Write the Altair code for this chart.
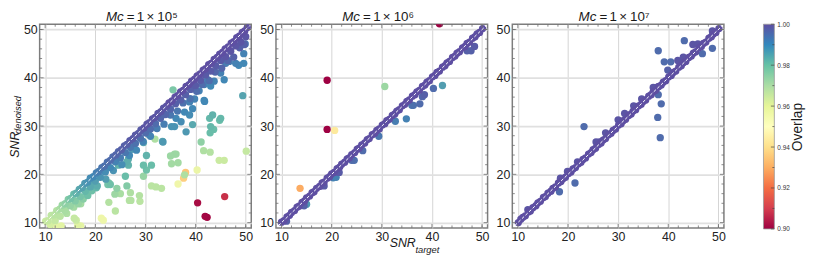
import altair as alt
import pandas as pd

FONT = "Liberation Sans"
W, H = 214, 206
AX_DOMAIN = [8.9, 51.1]
OV_DOMAIN = [0.90, 1.00]

PANEL_EXP = ["10⁵", "10⁶", "10⁷"]
TICK_LABELS = [10, 20, 30, 40, 50]
MINOR_TICKS = [12, 14, 16, 18, 22, 24, 26, 28, 32, 34, 36, 38, 42, 44, 46, 48, 50]
DIAG_LINE = [9.4, 50.8]
OV_TICKS = [0.90, 0.92, 0.94, 0.96, 0.98, 1.00]
OV_MINOR = [0.91, 0.93, 0.95, 0.97, 0.99]
SPECTRAL = ["#9e0142", "#d53e4f", "#f46d43", "#fdae61", "#fee08b", "#ffffbf",
            "#e6f598", "#abdda4", "#66c2a5", "#3288bd", "#5e4fa2"]

# ---------------- Panel 1 : Mc = 1e5  (SNR_target, SNR_denoised, overlap)
P1_DIAG = [
    (10.1, 10.3, 0.964), (10.6, 10.4, 0.965), (11.2, 11.5, 0.966), (11.8, 11.6, 0.967),
    (12.3, 12.5, 0.968), (12.9, 12.8, 0.970), (13.4, 13.6, 0.972), (14.0, 13.9, 0.974),
    (14.6, 14.8, 0.976), (15.1, 15.0, 0.978), (15.7, 15.9, 0.980), (16.2, 16.1, 0.982),
    (16.8, 16.9, 0.984), (17.4, 17.3, 0.985), (17.9, 18.1, 0.987), (18.5, 18.4, 0.988),
    (19.0, 19.2, 0.989), (19.6, 19.5, 0.990), (20.2, 20.3, 0.991), (20.7, 20.6, 0.992),
    (21.3, 21.4, 0.993), (21.8, 21.7, 0.994), (22.4, 22.5, 0.994), (23.0, 22.9, 0.995),
    (23.5, 23.6, 0.995), (24.1, 24.0, 0.996), (24.6, 24.7, 0.996), (25.2, 25.1, 0.997),
    (25.8, 25.9, 0.997), (26.3, 26.2, 0.997), (26.9, 27.0, 0.998), (27.5, 27.4, 0.998),
    (28.0, 28.1, 0.998), (28.6, 28.5, 0.998), (29.1, 29.2, 0.998), (29.7, 29.6, 0.999),
    (30.3, 30.4, 0.999), (30.8, 30.7, 0.999), (31.4, 31.5, 0.999), (31.9, 31.8, 0.999),
    (32.5, 32.6, 0.999), (33.1, 33.0, 0.999), (33.6, 33.7, 0.999), (34.2, 34.1, 0.999),
    (34.7, 34.8, 1.000), (35.3, 35.2, 1.000), (35.9, 36.0, 1.000), (36.4, 36.3, 1.000),
    (37.0, 37.1, 1.000), (37.5, 37.4, 1.000), (38.1, 38.2, 1.000), (38.7, 38.6, 1.000),
    (39.2, 39.3, 1.000), (39.8, 39.7, 1.000), (40.3, 40.4, 1.000), (40.9, 40.8, 1.000),
    (41.5, 41.6, 1.000), (42.0, 41.9, 1.000), (42.6, 42.7, 1.000), (43.1, 43.0, 1.000),
    (43.7, 43.8, 1.000), (44.3, 44.2, 1.000), (44.8, 44.9, 1.000), (45.4, 45.3, 1.000),
    (45.9, 46.0, 1.000), (46.5, 46.4, 1.000), (47.1, 47.2, 1.000), (47.6, 47.5, 1.000),
    (48.2, 48.3, 1.000), (48.7, 48.6, 1.000), (49.3, 49.4, 1.000), (49.8, 49.7, 1.000),
    (50.3, 50.4, 1.000),
]
P1_BELOW = [
    (11.0, 9.6, 0.962), (12.0, 10.4, 0.965), (13.0, 11.3, 0.967), (14.0, 12.4, 0.970),
    (15.0, 13.5, 0.973), (16.0, 14.5, 0.976), (17.0, 15.4, 0.978), (18.0, 16.5, 0.981),
    (19.0, 17.4, 0.984), (20.0, 18.6, 0.986), (21.0, 19.4, 0.988), (22.0, 20.5, 0.989),
    (23.0, 21.4, 0.990), (24.0, 22.6, 0.991), (25.0, 23.4, 0.992), (26.0, 24.5, 0.993),
    (27.0, 25.6, 0.993), (28.0, 26.4, 0.994), (29.0, 27.5, 0.994), (30.0, 28.6, 0.995),
    (31.0, 29.4, 0.995), (32.0, 30.5, 0.995), (33.0, 31.6, 0.996), (34.0, 32.4, 0.996),
    (35.0, 33.5, 0.996), (36.0, 34.6, 0.997), (37.0, 35.4, 0.997), (38.0, 36.5, 0.997),
    (39.0, 37.6, 0.997), (40.0, 38.4, 0.998), (41.0, 39.5, 0.998), (42.0, 40.6, 0.998),
    (43.0, 41.4, 0.998), (44.0, 42.5, 0.998), (45.0, 43.6, 0.998), (46.0, 44.4, 0.999),
    (47.0, 45.5, 0.999), (48.0, 46.6, 0.999), (49.0, 47.4, 0.999), (50.0, 48.5, 0.999),
    (18.5, 15.6, 0.979), (20.4, 17.6, 0.983), (22.1, 19.0, 0.986), (23.6, 20.8, 0.988),
    (25.3, 22.0, 0.989), (26.8, 23.9, 0.990), (28.2, 25.0, 0.990), (29.5, 26.8, 0.991),
    (31.0, 27.9, 0.991), (32.3, 29.5, 0.992), (33.7, 30.4, 0.992), (35.0, 32.3, 0.993),
    (36.4, 33.1, 0.993), (37.5, 34.8, 0.994), (38.9, 35.7, 0.994), (40.2, 37.2, 0.995),
    (41.3, 38.6, 0.995), (42.7, 39.4, 0.995), (43.9, 41.2, 0.996), (45.2, 42.0, 0.996),
    (46.4, 43.6, 0.996), (47.6, 44.3, 0.997), (48.8, 46.2, 0.997), (49.7, 46.9, 0.997),
]
P1_SCATTER = [
    (49.9, 47.0, 0.993), (49.6, 45.0, 0.991), (48.0, 43.0, 0.991), (48.6, 42.6, 0.990),
    (49.6, 43.0, 0.990), (46.0, 43.0, 0.992), (46.7, 43.4, 0.992), (45.0, 41.0, 0.991),
    (45.7, 39.6, 0.990), (43.7, 39.3, 0.991), (42.4, 39.6, 0.991), (43.0, 38.3, 0.990),
    (41.7, 38.6, 0.991), (40.7, 37.3, 0.991), (41.7, 35.3, 0.990), (39.8, 35.6, 0.991),
    (38.8, 35.0, 0.991), (39.4, 33.6, 0.990), (37.8, 32.9, 0.990), (38.8, 32.3, 0.989),
    (36.1, 31.6, 0.990), (37.1, 30.9, 0.989), (41.8, 35.1, 0.990),
    (49.4, 36.3, 0.985), (35.5, 37.5, 0.977), (43.4, 32.3, 0.982), (45.0, 31.6, 0.981),
    (43.0, 29.9, 0.981), (39.4, 30.3, 0.984), (42.8, 31.6, 0.981), (44.8, 31.2, 0.980),
    (42.9, 28.6, 0.980), (43.6, 29.3, 0.980), (38.1, 28.8, 0.987), (35.2, 29.9, 0.988),
    (35.8, 29.9, 0.988), (33.5, 26.7, 0.987), (30.6, 28.3, 0.988), (29.6, 26.6, 0.985),
    (30.2, 23.9, 0.982), (31.2, 21.9, 0.980), (29.6, 21.9, 0.980), (30.2, 20.9, 0.979),
    (26.6, 21.9, 0.982), (26.3, 22.6, 0.983), (26.6, 23.2, 0.983), (24.6, 21.9, 0.982),
    (25.3, 24.9, 0.986), (27.3, 25.2, 0.987), (24.3, 23.2, 0.985), (26.0, 19.6, 0.980),
    (33.4, 26.8, 0.984),
    (41.1, 26.7, 0.974), (41.6, 24.9, 0.969), (42.9, 24.6, 0.968), (31.9, 27.3, 0.969),
    (35.0, 23.8, 0.972), (36.1, 24.2, 0.972), (36.5, 22.4, 0.971), (35.8, 24.2, 0.972),
    (35.2, 22.2, 0.971), (29.6, 19.6, 0.973), (50.1, 24.8, 0.965), (44.7, 22.9, 0.964),
    (45.7, 22.9, 0.964), (37.8, 19.9, 0.969), (33.2, 17.1, 0.967), (31.2, 17.6, 0.967),
    (32.1, 17.4, 0.967),
    (40.3, 20.9, 0.956), (36.5, 18.0, 0.954),
    (38.0, 20.4, 0.935), (37.6, 19.2, 0.937),
    (40.4, 14.1, 0.902), (41.9, 11.3, 0.901), (42.3, 11.1, 0.901), (45.8, 15.4, 0.908),
    (22.5, 17.9, 0.978), (23.9, 15.9, 0.972), (22.7, 14.2, 0.968), (24.0, 12.4, 0.967),
    (21.2, 10.9, 0.955), (21.6, 10.5, 0.955), (16.2, 10.5, 0.964), (15.8, 10.9, 0.965),
    (25.0, 16.0, 0.970), (26.8, 14.6, 0.968), (27.0, 16.2, 0.969), (28.9, 14.4, 0.967),
    (28.8, 15.6, 0.968), (26.3, 17.6, 0.976), (24.3, 17.1, 0.974), (22.7, 18.2, 0.978),
    (23.0, 17.9, 0.979), (27.1, 14.6, 0.968),
    (14.3, 11.9, 0.969), (15.7, 13.2, 0.971), (16.6, 13.9, 0.973), (17.6, 14.9, 0.975),
    (18.3, 15.9, 0.977), (19.3, 16.6, 0.979), (20.2, 17.2, 0.981), (19.3, 18.2, 0.983),
    (17.1, 9.3, 0.958), (12.2, 9.2, 0.958), (13.2, 9.3, 0.959), (16.5, 9.4, 0.960),
    (17.1, 13.9, 0.971), (14.1, 13.2, 0.970),
]

# ---------------- Panel 2 : Mc = 1e6
P2_DIAG = [
    (10.0, 10.1, 1.0), (10.5, 10.4, 1.0), (11.1, 11.2, 1.0), (11.6, 11.5, 1.0), (12.0, 12.1, 1.0),
    (12.6, 12.5, 1.0), (13.1, 13.2, 1.0), (13.5, 13.4, 1.0), (14.1, 14.2, 1.0), (14.6, 14.5, 1.0),
    (15.0, 15.1, 1.0), (15.6, 15.5, 1.0), (16.1, 16.2, 1.0), (16.5, 16.4, 1.0), (17.0, 17.1, 1.0),
    (17.6, 17.5, 1.0), (18.1, 18.2, 1.0), (18.5, 18.4, 1.0), (19.1, 19.2, 1.0), (19.6, 19.5, 1.0),
    (20.0, 20.1, 1.0), (20.5, 20.4, 1.0), (21.1, 21.2, 1.0), (21.6, 21.5, 1.0), (22.0, 22.1, 1.0),
    (22.6, 22.5, 1.0), (23.1, 23.2, 1.0), (23.5, 23.4, 1.0), (24.0, 24.1, 1.0), (24.6, 24.5, 1.0),
    (25.1, 25.2, 1.0), (25.5, 25.4, 1.0), (26.0, 26.1, 1.0), (26.6, 26.5, 1.0), (27.1, 27.2, 1.0),
    (27.5, 27.4, 1.0), (28.1, 28.2, 1.0), (28.6, 28.5, 1.0), (29.0, 29.1, 1.0), (29.5, 29.4, 1.0),
    (30.1, 30.2, 1.0), (30.6, 30.5, 1.0), (31.0, 31.1, 1.0), (31.5, 31.4, 1.0), (32.1, 32.2, 1.0),
    (32.6, 32.5, 1.0), (33.0, 33.1, 1.0), (33.5, 33.4, 1.0), (34.1, 34.2, 1.0), (34.6, 34.5, 1.0),
    (35.0, 35.1, 1.0), (35.5, 35.4, 1.0), (36.1, 36.2, 1.0), (36.6, 36.5, 1.0), (37.0, 37.1, 1.0),
    (37.5, 37.4, 1.0), (38.1, 38.2, 1.0), (38.6, 38.5, 1.0), (39.0, 39.1, 1.0), (39.5, 39.4, 1.0),
    (40.1, 40.2, 1.0), (40.6, 40.5, 1.0), (41.0, 41.1, 1.0), (41.5, 41.4, 1.0), (42.1, 42.2, 1.0),
    (42.6, 42.5, 1.0), (43.0, 43.1, 1.0), (43.5, 43.4, 1.0), (44.1, 44.2, 1.0), (44.6, 44.5, 1.0),
    (45.0, 45.1, 1.0), (45.5, 45.4, 1.0), (46.1, 46.2, 1.0), (46.6, 46.5, 1.0), (47.0, 47.1, 1.0),
    (47.5, 47.4, 1.0), (48.1, 48.2, 1.0), (48.6, 48.5, 1.0), (49.0, 49.1, 1.0), (49.5, 49.4, 1.0),
    (50.1, 50.2, 1.0),
]
P2_OFF = [
    (11.0, 10.3, 0.997), (15.0, 13.8, 0.987), (20.3, 19.3, 0.991), (20.9, 19.4, 0.991),
    (24.0, 22.9, 0.995), (24.5, 22.9, 0.994), (26.2, 24.9, 0.995), (29.4, 27.9, 0.993),
    (32.7, 31.0, 0.992), (34.9, 31.5, 0.991), (36.0, 34.3, 0.993), (36.3, 34.3, 0.994),
    (37.6, 34.6, 0.995), (38.1, 36.1, 0.996), (38.5, 36.5, 0.997), (40.3, 37.8, 0.995),
    (42.1, 38.4, 0.986), (47.0, 45.6, 0.997), (47.8, 45.6, 0.997), (48.5, 46.5, 0.998),
    (14.5, 13.5, 0.997), (18.5, 17.6, 0.998), (21.5, 20.4, 0.998),
    (41.5, 51.2, 0.900), (19.1, 39.5, 0.900), (19.1, 29.3, 0.900), (20.6, 29.1, 0.945),
    (30.6, 38.2, 0.972), (13.7, 17.1, 0.930),
]

# ---------------- Panel 3 : Mc = 1e7
P3_DIAG = [
    (10.1, 10.0, 1.0), (10.6, 10.7, 1.0), (11.0, 11.1, 1.0), (11.5, 11.4, 1.0), (12.1, 12.2, 1.0),
    (12.5, 12.4, 1.0), (13.0, 13.1, 1.0), (13.6, 13.5, 1.0), (14.0, 14.1, 1.0), (14.5, 14.4, 1.0),
    (15.1, 15.2, 1.0), (15.5, 15.4, 1.0), (16.0, 16.1, 1.0), (16.6, 16.5, 1.0), (17.0, 17.1, 1.0),
    (17.5, 17.4, 1.0), (18.1, 18.2, 1.0), (18.6, 18.5, 1.0), (19.0, 19.1, 1.0), (19.5, 19.4, 1.0),
    (20.1, 20.2, 1.0), (20.6, 20.5, 1.0), (21.0, 21.1, 1.0), (21.5, 21.4, 1.0), (22.1, 22.2, 1.0),
    (22.6, 22.5, 1.0), (23.0, 23.1, 1.0), (23.5, 23.4, 1.0), (24.1, 24.2, 1.0), (24.6, 24.5, 1.0),
    (25.0, 25.1, 1.0), (25.5, 25.4, 1.0), (26.1, 26.2, 1.0), (26.6, 26.5, 1.0), (27.0, 27.1, 1.0),
    (27.5, 27.4, 1.0), (28.1, 28.2, 1.0), (28.6, 28.5, 1.0), (29.0, 29.1, 1.0), (29.5, 29.4, 1.0),
    (30.1, 30.2, 1.0), (30.6, 30.5, 1.0), (31.0, 31.1, 1.0), (31.5, 31.4, 1.0), (32.1, 32.2, 1.0),
    (32.6, 32.5, 1.0), (33.0, 33.1, 1.0), (33.5, 33.4, 1.0), (34.1, 34.2, 1.0), (34.6, 34.5, 1.0),
    (35.0, 35.1, 1.0), (35.5, 35.4, 1.0), (36.1, 36.2, 1.0), (36.6, 36.5, 1.0), (37.0, 37.1, 1.0),
    (37.5, 37.4, 1.0), (38.1, 38.2, 1.0), (38.6, 38.5, 1.0), (39.0, 39.1, 1.0), (39.5, 39.4, 1.0),
    (40.1, 40.2, 1.0), (40.6, 40.5, 1.0), (41.0, 41.1, 1.0), (41.5, 41.4, 1.0), (42.1, 42.2, 1.0),
    (42.6, 42.5, 1.0), (43.0, 43.1, 1.0), (43.5, 43.4, 1.0), (44.1, 44.2, 1.0), (44.6, 44.5, 1.0),
    (45.0, 45.1, 1.0), (45.5, 45.4, 1.0), (46.1, 46.2, 1.0), (46.6, 46.5, 1.0), (47.0, 47.1, 1.0),
    (47.5, 47.4, 1.0), (48.1, 48.2, 1.0), (48.6, 48.5, 1.0), (49.0, 49.1, 1.0), (49.5, 49.4, 1.0),
    (50.1, 50.2, 1.0),
]
P3_OFF = [
    (12.0, 12.7, 0.999), (18.5, 19.2, 0.999), (19.9, 20.6, 0.999), (21.9, 22.6, 0.999),
    (25.6, 26.7, 0.999), (26.3, 26.7, 0.999), (27.5, 28.6, 0.999), (30.0, 31.3, 0.999),
    (31.3, 32.6, 0.999), (33.1, 34.2, 0.999), (34.7, 35.6, 0.999), (37.0, 38.0, 0.999),
    (37.9, 38.1, 0.999), (39.9, 41.6, 0.997), (41.9, 43.6, 0.999), (43.0, 44.3, 0.999),
    (44.9, 46.9, 0.999), (45.9, 47.0, 0.999), (48.9, 49.3, 0.999), (48.8, 49.7, 0.999),
    (38.0, 45.6, 0.995), (43.2, 47.7, 0.995), (39.2, 43.3, 0.995), (40.5, 43.3, 0.995),
    (48.8, 46.1, 0.995), (46.8, 45.0, 0.995), (38.0, 36.5, 0.995), (38.6, 34.6, 0.995),
    (37.9, 31.8, 0.995), (38.4, 27.6, 0.995), (23.2, 29.9, 0.995), (21.4, 18.2, 0.995),
    (18.3, 16.4, 0.995),
]

PANELS = [P1_DIAG + P1_BELOW + P1_SCATTER, P2_DIAG + P2_OFF, P3_DIAG + P3_OFF]

ONE = pd.DataFrame({"k": [0]})
TICK_COLOR = "#6e6e6e"


def xy_scale():
    return alt.Scale(domain=AX_DOMAIN, nice=False, zero=False)


def x_axis():
    return alt.Axis(values=TICK_LABELS, grid=True, ticks=False, domain=False, title=None,
                    labelFontSize=12.5, labelPadding=3, labelColor="#222",
                    gridColor="#d4d4d4", gridWidth=1, labelFont=FONT)


def y_axis():
    return alt.Axis(values=TICK_LABELS, grid=True, ticks=False, domain=False, title=None,
                    labelFontSize=12.5, labelPadding=2.5, labelColor="#222",
                    gridColor="#e0e0e0", gridWidth=1.8, labelFont=FONT)


def txt(text, x, y, size, italic=False, align="left", angle=0):
    kw = dict(text=text, font=FONT, fontSize=size, align=align, baseline="alphabetic",
              color="#1a1a1a")
    if italic:
        kw["fontStyle"] = "italic"
    if angle:
        kw["angle"] = angle
    return alt.Chart(ONE).mark_text(**kw).encode(x=alt.value(x), y=alt.value(y))


def make_panel(points, exp_text, ytitle, xtitle):
    df = pd.DataFrame(points, columns=["snr_t", "snr_d", "ov"]).sort_values("ov")
    X = lambda f: alt.X(f, scale=xy_scale(), axis=x_axis())
    Y = lambda f: alt.Y(f, scale=xy_scale(), axis=y_axis())

    pts = alt.Chart(df).mark_circle(size=55, opacity=1, clip=True).encode(
        x=X("snr_t:Q"), y=Y("snr_d:Q"),
        color=alt.Color("ov:Q", scale=alt.Scale(scheme="spectral", domain=OV_DOMAIN, clamp=True),
                        legend=None),
        order=alt.Order("ov:Q"),
    )
    line_df = pd.DataFrame({"snr_t": DIAG_LINE, "snr_d": DIAG_LINE})
    line = alt.Chart(line_df).mark_line(color="white", strokeWidth=1, strokeDash=[3, 2],
                                        clip=True).encode(x=X("snr_t:Q"), y=Y("snr_d:Q"))

    minor = pd.DataFrame({"snr_t": MINOR_TICKS, "snr_d": MINOR_TICKS})
    major = pd.DataFrame({"snr_t": TICK_LABELS, "snr_d": TICK_LABELS})
    ticks = []
    for d, ln in ((minor, 2.5), (major, 4)):
        r = alt.Chart(d).mark_rule(color=TICK_COLOR, strokeWidth=0.8)
        ticks += [
            r.encode(x=X("snr_t:Q"), y=alt.value(H), y2=alt.value(H - ln)),
            r.encode(x=X("snr_t:Q"), y=alt.value(0), y2=alt.value(ln)),
            r.encode(y=Y("snr_d:Q"), x=alt.value(0), x2=alt.value(ln)),
            r.encode(y=Y("snr_d:Q"), x=alt.value(W), x2=alt.value(W - ln)),
        ]

    ty = -3
    texts = [
        txt("Mc", 85, ty, 13.5, italic=True, align="right"),
        txt("=", 92, ty, 13.5, align="center"),
        txt("1", 102, ty, 13.5, align="center"),
        txt("×", 112, ty, 13.5, align="center"),
        txt(exp_text, 119, ty, 13.5),
    ]
    if ytitle:
        texts += [
            txt("SNR", -21, 135, 12.5, italic=True, angle=270),
            txt("denoised", -18.5, 111, 9.5, italic=True, angle=270),
        ]
    if xtitle:
        texts += [
            txt("SNR", 115, 225, 12.5, italic=True),
            txt("target", 141, 231.5, 9.5, italic=True),
        ]
    return alt.layer(line, pts, line, *ticks, *texts).properties(
        width=W, height=H,
        view=alt.ViewBackground(stroke="#7d7d7d", strokeWidth=1.5),
    )


panels = [make_panel(PANELS[i], PANEL_EXP[i], i == 0, i == 1) for i in range(3)]

# --------------- colour bar
cb_df = pd.DataFrame({"lo": [OV_DOMAIN[0]], "hi": [OV_DOMAIN[1]]})
cb_scale = alt.Scale(domain=OV_DOMAIN, nice=False, zero=False)
grad = alt.Gradient(
    gradient="linear", x1=0, y1=1, x2=0, y2=0,
    stops=[alt.GradientStop(offset=i / (len(SPECTRAL) - 1), color=c) for i, c in enumerate(SPECTRAL)],
)
cb_axis = alt.Axis(orient="right", values=OV_TICKS, format=".2f", ticks=False, domain=False,
                   grid=False, labelFontSize=6.5, labelColor="#333", labelPadding=2.5,
                   labelFont=FONT, title="Overlap", titleFont=FONT, titleFontSize=14,
                   titleFontWeight="normal", titleColor="#1a1a1a", titleAngle=270,
                   titleBaseline="top", titlePadding=1.5)
cb_rect = alt.Chart(cb_df).mark_rect(fill=grad, stroke="#9a9a9a", strokeWidth=0.8).encode(
    x=alt.value(15), x2=alt.value(26),
    y=alt.Y("lo:Q", scale=cb_scale, axis=cb_axis), y2="hi:Q",
)
cb_t_major = alt.Chart(pd.DataFrame({"lo": OV_TICKS})).mark_rule(color="#444", strokeWidth=0.7).encode(
    y=alt.Y("lo:Q", scale=cb_scale, axis=cb_axis), x=alt.value(22.5), x2=alt.value(26))
cb_t_minor = alt.Chart(pd.DataFrame({"lo": OV_MINOR})).mark_rule(color="#444", strokeWidth=0.7).encode(
    y=alt.Y("lo:Q", scale=cb_scale, axis=cb_axis), x=alt.value(24), x2=alt.value(26))
colorbar = alt.layer(cb_rect, cb_t_major, cb_t_minor).properties(
    width=26, height=H + 1, view=alt.ViewBackground(stroke="transparent"))

chart = alt.HConcatChart(hconcat=[*panels, colorbar], spacing=25, bounds="flush").properties(
    padding=0
).configure(background="white")

chart.save("out.html", embed_options={"renderer": "svg", "actions": False})
